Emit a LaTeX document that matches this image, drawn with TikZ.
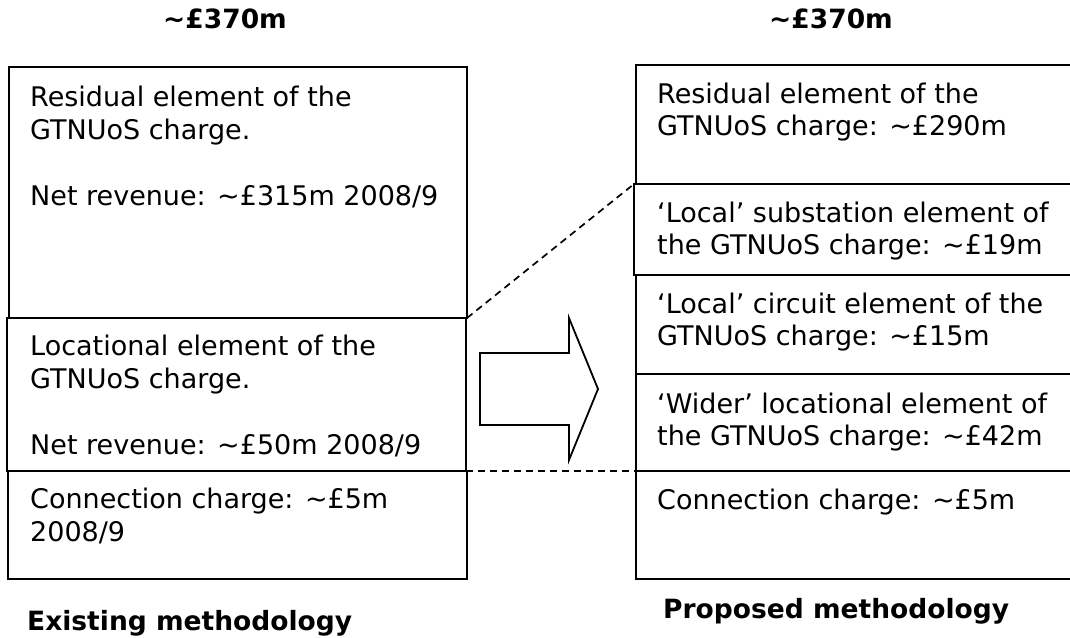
\documentclass[tikz,border=0pt]{standalone}
\usepackage{fontspec}
\setmainfont{DejaVu Sans}
\begin{document}
\begin{tikzpicture}[x=1pt,y=-1pt,
  box/.style={draw=black,line width=1.8pt,inner sep=0pt,outer sep=0pt,anchor=north west},
  txt/.style={anchor=base west,align=left,inner sep=0pt,font=\fontsize{27}{33}\selectfont},
  rtxt/.style={anchor=base west,align=left,inner sep=0pt,font=\fontsize{27}{32.5}\selectfont},
  head/.style={anchor=base,inner sep=0pt,font=\fontsize{26.5}{30}\selectfont\bfseries},
  guide/.style={draw=black,line width=1.7pt,dash pattern=on 7pt off 5pt},
  bigarrow/.style={draw=black,line width=1.8pt,fill=white,line join=miter}]
\useasboundingbox (0,0) rectangle (1070,637);
\clip (0,0) rectangle (1070,637);
% headers
\node[head] (hl) at (225,28) {\char"007E£370m};
\node[head] (hr) at (831,28) {\char"007E£370m};
% left column
\node[box,minimum width=458pt,minimum height=251pt] (L1) at (9,67) {};
\node[box,minimum width=459pt,minimum height=153pt] (L2) at (7,318) {};
\node[box,minimum width=459pt,minimum height=108pt] (L3) at (8,471) {};
\node[txt] (tL1) at (30,205) {Residual element of the\\GTNUoS charge.\\[33pt]Net revenue: \char"007E£315m 2008/9};
\node[txt] (tL2) at (30,454) {Locational element of the\\GTNUoS charge.\\[33pt]Net revenue: \char"007E£50m 2008/9};
\node[txt] (tL3) at (30,541) {Connection charge: \char"007E£5m\\2008/9};
% right column
\node[box,minimum width=460pt,minimum height=119pt] (R1) at (636,65) {};
\node[box,minimum width=460pt,minimum height=91pt] (R2) at (634,184) {};
\node[box,minimum width=460pt,minimum height=99pt] (R3) at (636,275) {};
\node[box,minimum width=460pt,minimum height=97pt] (R4) at (636,374) {};
\node[box,minimum width=460pt,minimum height=108pt] (R5) at (636,471) {};
\node[rtxt] (tR1) at (657,135.5) {Residual element of the\\GTNUoS charge: \char"007E£290m};
\node[rtxt] (tR2) at (657,254.5) {‘Local’ substation element of\\the GTNUoS charge: \char"007E£19m};
\node[rtxt] (tR3) at (657,345.5) {‘Local’ circuit element of the\\GTNUoS charge: \char"007E£15m};
\node[rtxt] (tR4) at (657,445.5) {‘Wider’ locational element of\\the GTNUoS charge: \char"007E£42m};
\node[rtxt] (tR5) at (657,509) {Connection charge: \char"007E£5m};
% dashed guides
\draw[guide] (L1.south east) -- (R2.north west);
\draw[guide] (L2.south east) -- (R5.north west);
% big arrow
\coordinate (ab) at (480,389);
\draw[bigarrow] (ab) ++(0,-36) -- ++(89,0) -- ++(0,-35) -- ++(29,71) -- ++(-29,71) -- ++(0,-35) -- ++(-89,0) -- cycle;
% footers
\node[head,anchor=base west] (fl) at (27,630) {Existing methodology};
\node[head,anchor=base west] (fr) at (663,618) {Proposed methodology};
\end{tikzpicture}
\end{document}
